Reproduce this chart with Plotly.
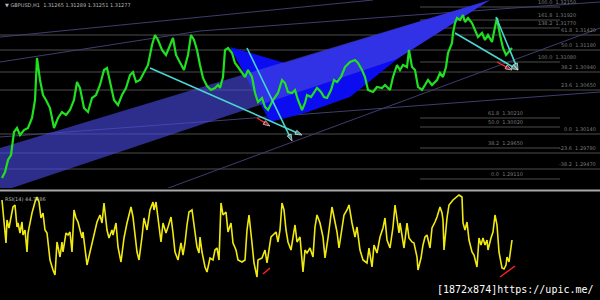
import plotly.graph_objects as go

# ---------------- data (bar index, price) ----------------
price_x = [2,5,8,11,14,17,20,24,28,32,35,37,40,43,46,50,54,58,62,66,70,74,77,80,84,88,92,96,100,104,107,110,114,118,122,126,130,133,136,140,144,148,152,155,158,162,166,170,173,176,180,184,188,191,194,197,
           200,203,207,211,215,218,220,223,225,228,232,235,238,242,245,248,252,255,258,262,265,268,273,278,282,285,288,292,295,298,302,305,307,311,314,317,321,324,327,331,334,337,341,345,350,355,358,362,365,368,373,377,382,385,390,393,397,
           400,403,407,409,412,415,418,422,425,428,432,437,440,443,446,448,452,453,455,457,460,463,465,468,472,475,478,482,485,488,492,495,497,500,503,506,509,512]
price_y = [12,18,30,35,58,62,55,60,62,72,90,132,110,95,90,82,62,72,78,75,80,90,108,102,82,78,92,95,105,120,122,108,90,85,95,102,115,118,108,110,118,125,145,155,150,140,135,145,152,135,128,120,135,155,150,140,
           125,112,104,100,102,105,102,113,140,142,137,127,123,117,113,120,113,97,88,92,83,80,90,97,110,107,98,97,100,90,80,87,95,93,98,102,98,93,92,100,110,108,113,123,128,130,127,120,113,100,98,103,102,105,100,113,125,
           120,125,123,140,123,120,103,100,105,110,105,110,117,113,123,137,147,157,167,172,170,175,168,172,167,160,153,157,150,155,148,163,172,155,142,135,138,142]

osc_x = [2,3,6,7,9,12,13,15,17,18,20,22,23,25,27,28,32,35,37,39,41,43,45,47,50,53,55,57,58,60,62,63,66,68,70,72,74,76,78,82,83,87,90,93,97,100,102,104,107,109,112,113,116,118,121,124,127,131,133,137,139,142,144,147,150,153,154,156,158,161,163,166,168,171,173,175,178,181,183,185,187,189,192,194,197,199,
         200,202,205,207,210,213,215,217,219,221,223,226,228,231,233,236,238,242,245,247,249,252,254,257,258,262,265,267,269,271,273,276,278,280,282,284,286,288,291,293,295,297,300,303,305,307,310,313,315,317,320,323,325,328,332,334,337,339,342,344,347,349,352,355,357,360,363,367,369,372,374,377,380,383,385,387,390,393,395,397,399,
         400,402,404,407,409,412,414,417,418,421,423,425,427,430,432,435,437,440,442,443,444,447,449,453,456,459,462,463,465,467,469,472,474,477,479,481,483,485,487,488,491,493,495,497,499,502,504,506,507,509,512]
osc_y = [85,75,42,65,57,73,78,80,58,62,52,63,50,55,33,52,72,83,88,83,67,72,55,52,25,15,10,43,38,28,43,33,52,50,53,33,75,67,63,47,53,20,33,45,63,70,62,82,55,47,55,50,62,38,23,47,62,78,68,33,25,48,67,55,75,83,75,83,67,43,62,52,58,68,52,33,25,42,30,42,60,73,75,62,38,32,
         48,33,18,13,27,25,35,37,25,82,70,73,53,62,42,35,25,23,25,55,70,42,22,8,25,27,35,22,35,48,50,53,43,55,82,75,55,43,35,47,60,43,48,13,35,32,37,28,58,70,62,48,27,47,78,68,53,37,60,70,75,80,62,48,58,35,25,22,37,18,40,32,48,57,67,45,37,58,80,68,52,
         62,50,37,62,47,43,42,28,15,27,40,48,50,37,57,63,68,78,72,65,35,67,80,85,88,90,88,62,55,63,45,33,30,18,47,40,47,40,45,35,47,53,70,60,33,17,16,20,28,23,45]

# drawn objects (bar index, price)
band_x = [0, 490, 397, 0]
band_y = [42, 190, 131, -2]
wedge_x = [230, 270, 305, 350, 400, 490, 285]
wedge_y = [143, 68, 77, 93, 133, 190, 127]

cyan_lines = [([150, 302], [122, 55]), ([247, 292], [142, 49]),
              ([455, 518], [157, 120]), ([496, 518], [173, 120])]
red_main = [([257, 270], [72, 64]), ([497, 512], [128, 120])]
red_osc = [([263, 270], [11, 17]), ([500, 515], [8, 19])]

slope_lines = [([0, 200, 400, 600], [128, 159, 174, 188]),
               ([0, 373], [153, 190]),
               ([163, 600], [0, 162]),
               ([0, 600], [53, 98])]

full_levels = [155, 140, 118, 100, 56, 37, 21]
full_labels = ["61.8  1.31420", "50.0  1.31180", "38.2  1.30940", "23.6  1.30650", "0.0  1.30140", "-23.6  1.29780", "-38.2  1.29470"]
part_levels = [183, 170, 162, 128, 72, 63, 42, 11]
part_labels = ["100.0  1.32150", "161.8  1.31920", "138.2  1.31770", "100.0  1.31080", "61.8  1.30210", "50.0  1.30020", "38.2  1.29650", "0.0  1.29110"]

BG = "black"
fig = go.Figure()

def line(x, y, color, width=1, ax="y", arrow=False):
    mk = dict(size=[0] * (len(x) - 1) + [7], symbol="arrow", angleref="previous", color=color)
    fig.add_trace(go.Scatter(x=x, y=y, mode="lines+markers" if arrow else "lines",
                             line=dict(color=color, width=width),
                             marker=mk if arrow else None, yaxis=ax, hoverinfo="skip", showlegend=False))

# horizontal levels
for lv in full_levels:
    line([0, 600], [lv, lv], "#4c4c4c", 1)
for lv in part_levels:
    line([420, 560], [lv, lv], "#4c4c4c", 1)
# sloped faint lines
for xs, ys in slope_lines:
    line(xs, ys, "#3e3e6e", 1)

# filled shapes
fig.add_trace(go.Scatter(x=wedge_x, y=wedge_y, fill="toself", fillcolor="#0c0cf0", mode="lines",
                         line=dict(width=0), hoverinfo="skip", showlegend=False))
fig.add_trace(go.Scatter(x=band_x, y=band_y, fill="toself", fillcolor="rgba(72,72,225,0.62)", mode="lines",
                         line=dict(width=0), hoverinfo="skip", showlegend=False))

# price
fig.add_trace(go.Scatter(x=price_x, y=price_y, mode="lines", line=dict(color="#20e020", width=2.2),
                         hoverinfo="skip", showlegend=False))

for xs, ys in cyan_lines:
    line(xs, ys, "#4ad6d0", 1.6, arrow=True)
for xs, ys in red_main:
    line(xs, ys, "#ff2424", 1.4, arrow=True)

# oscillator
fig.add_trace(go.Scatter(x=osc_x, y=osc_y, mode="lines", line=dict(color="#f0ea10", width=1.6),
                         yaxis="y2", hoverinfo="skip", showlegend=False))
for xs, ys in red_osc:
    line(xs, ys, "#ff2424", 1.4, ax="y2")

ann = []
for lv, t in zip(full_levels, full_labels):
    ann.append(dict(x=598, y=lv, xref="x", yref="y", text=t, showarrow=False, xanchor="right",
                    yanchor="bottom", font=dict(size=5, color="#7a7a7a", family="DejaVu Sans")))
for lv, t in zip(part_levels, part_labels):
    ann.append(dict(x=578 if lv > 100 else 525, y=lv, xref="x", yref="y", text=t, showarrow=False,
                    xanchor="right", yanchor="bottom", font=dict(size=5, color="#7a7a7a", family="DejaVu Sans")))
ann.append(dict(x=0.005, y=0.999, xref="paper", yref="paper", xanchor="left", yanchor="top", showarrow=False,
                text="▼ GBPUSD,H1  1.31265 1.31289 1.31251 1.31277", font=dict(size=5, color="#b8b8b8", family="DejaVu Sans")))
ann.append(dict(x=0.005, y=0.355, xref="paper", yref="paper", xanchor="left", yanchor="top", showarrow=False,
                text="RSI(14) 44.7586", font=dict(size=5, color="#b8b8b8", family="DejaVu Sans")))
ann.append(dict(x=0.993, y=0.01, xref="paper", yref="paper", xanchor="right", yanchor="bottom", showarrow=False,
                text="[1872x874]https://upic.me/", font=dict(size=10, color="white", family="DejaVu Sans Mono")))

fig.update_layout(
    width=600, height=300, margin=dict(l=0, r=0, t=0, b=0),
    paper_bgcolor=BG, plot_bgcolor=BG, showlegend=False,
    xaxis=dict(range=[0, 600], visible=False, fixedrange=True),
    yaxis=dict(range=[2, 190], domain=[0.3733, 1.0], visible=False),
    yaxis2=dict(range=[-15, 92], domain=[0.0, 0.3567], visible=False, anchor="x"),
    annotations=ann,
    shapes=[dict(type="line", xref="paper", yref="paper", x0=0, x1=1, y0=0.3650, y1=0.3650,
                 line=dict(color="#a8a8a8", width=2))],
)
fig.write_html("out.html")
